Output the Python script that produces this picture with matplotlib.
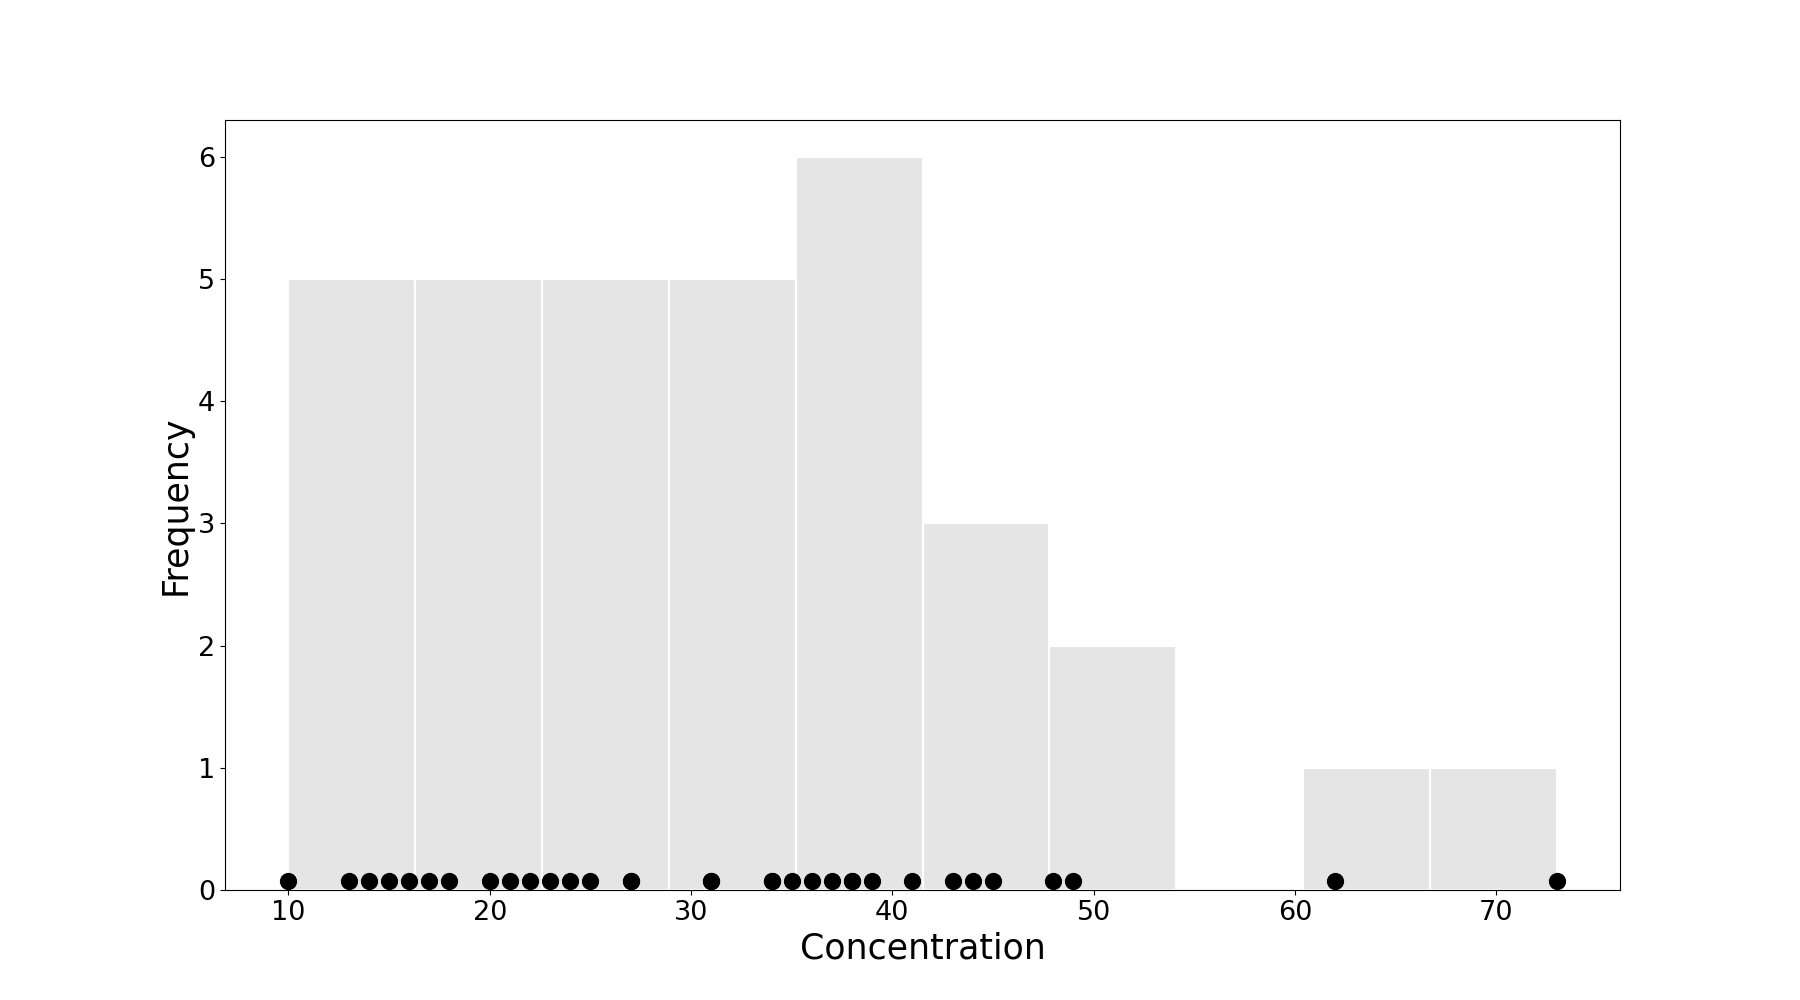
import numpy as np
import matplotlib
matplotlib.use("Agg")
import matplotlib.pyplot as plt

# concentration readings (some values repeat, dots overlap)
concentration = [10, 13, 14, 15, 16, 17, 18, 20, 21, 22, 23, 24, 25, 27, 27,
                 31, 31, 34, 34, 35, 36, 37, 38, 38, 39, 41, 43, 44, 45, 48, 49,
                 62, 73]
n_bins = 10
dot_y = 0.07

fig, ax = plt.subplots(figsize=(18, 10))
ax.hist(concentration, bins=n_bins, color="#e5e5e5", edgecolor="white", linewidth=1.5)
ax.scatter(concentration, np.full(len(concentration), dot_y), s=130, color="black", zorder=3)
ax.set_xlabel("Concentration", fontsize=25)
ax.set_ylabel("Frequency", fontsize=25)
ax.tick_params(labelsize=19.5)
fig.savefig("out.png", dpi=100)
